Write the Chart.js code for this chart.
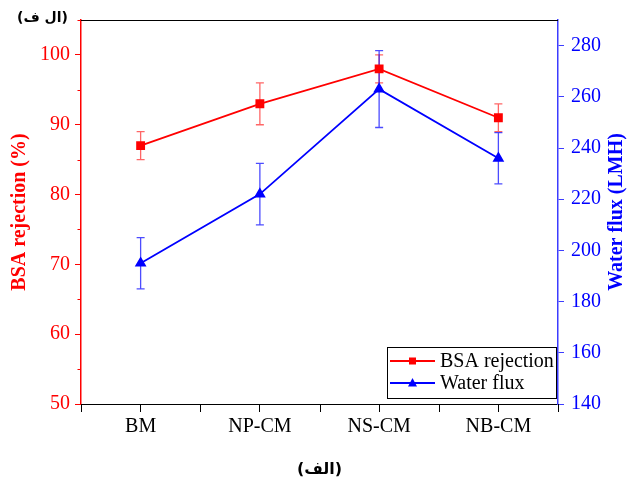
<!DOCTYPE html>
<html>
<head>
<meta charset="utf-8">
<script src="https://cdn.jsdelivr.net/npm/chart.js@4.4.0/dist/chart.umd.min.js"></script>
<style>
  html, body { margin: 0; padding: 0; background: #fff; }
  #wrap { width: 629px; height: 484px; }
</style>
</head>
<body>
<div id="wrap"><canvas id="membrane_chart"></canvas></div>
<script>
const membranes = ['BM', 'NP-CM', 'NS-CM', 'NB-CM'];
const bsa_rejection = [87, 93, 98, 91];
const bsa_error = [2, 3, 2, 2];
const water_flux = [195, 222, 263, 236];
const flux_error = [10, 12, 15, 10];

const RED = '#ff0000';
const BLUE = '#0000ff';
const BLUE_AXIS = '#3c3cff';
const serif = 'Liberation Serif, Times New Roman, serif';

// error bars behind the lines
const errorBars = {
  id: 'errorBars',
  beforeDatasetsDraw(chart) {
    const ctx = chart.ctx;
    const x = chart.scales.x;
    const sets = [
      [bsa_rejection, bsa_error, chart.scales.y, 'rgba(255,0,0,0.6)'],
      [water_flux, flux_error, chart.scales.y1, 'rgba(0,0,255,0.7)']
    ];
    ctx.save();
    ctx.lineWidth = 1.3;
    sets.forEach(([vals, errs, ys, color]) => {
      ctx.strokeStyle = color;
      vals.forEach((v, i) => {
        const px = x.getPixelForValue(i);
        const top = ys.getPixelForValue(v + errs[i]);
        const bot = ys.getPixelForValue(v - errs[i]);
        ctx.beginPath();
        ctx.moveTo(px, top); ctx.lineTo(px, bot);
        ctx.moveTo(px - 4, top); ctx.lineTo(px + 4, top);
        ctx.moveTo(px - 4, bot); ctx.lineTo(px + 4, bot);
        ctx.stroke();
      });
    });
    ctx.restore();
  }
};

// frame, minor ticks, right title, legend and labels
const extras = {
  id: 'extras',
  afterDraw(chart) {
    const ctx = chart.ctx;
    const a = chart.chartArea;
    ctx.save();

    // top border
    ctx.strokeStyle = '#000';
    ctx.lineWidth = 1;
    ctx.beginPath();
    ctx.moveTo(a.left, a.top + 0.5);
    ctx.lineTo(a.right, a.top + 0.5);
    ctx.stroke();

    // x ticks between categories
    const step = (a.right - a.left) / membranes.length;
    ctx.beginPath();
    for (let k = 0; k <= membranes.length; k++) {
      const px = Math.round(a.left + k * step) + 0.5;
      ctx.moveTo(px, a.bottom);
      ctx.lineTo(px, a.bottom + 8);
    }
    ctx.stroke();

    // short minor ticks on y axes
    const minor = (scale, every, color, dir) => {
      ctx.strokeStyle = color;
      ctx.beginPath();
      scale.ticks.forEach(t => {
        if (t.value % every === 0) return;
        const py = Math.round(scale.getPixelForValue(t.value)) + 0.5;
        const ax = dir < 0 ? a.left : a.right;
        ctx.moveTo(ax, py);
        ctx.lineTo(ax + dir * 3.5, py);
      });
      ctx.stroke();
    };
    minor(chart.scales.y, 10, RED, -1);
    minor(chart.scales.y1, 20, BLUE_AXIS, 1);

    // right axis title, reading upward
    ctx.fillStyle = BLUE;
    ctx.font = 'bold 20px ' + serif;
    ctx.textAlign = 'center';
    ctx.textBaseline = 'middle';
    ctx.translate(617, (a.top + a.bottom) / 2);
    ctx.rotate(-Math.PI / 2);
    ctx.fillText('Water flux (LMH)', 0, 0);
    ctx.setTransform(1, 0, 0, 1, 0, 0);

    // top-left label
    ctx.fillStyle = '#000';
    ctx.font = 'bold 14px DejaVu Sans';
    ctx.textAlign = 'left';
    ctx.fillText('(ال ف)', 17, 18);

    // legend
    const lx = 387, ly = 347, lw = 169, lh = 51;
    ctx.fillStyle = '#fff';
    ctx.fillRect(lx, ly, lw, lh);
    ctx.strokeStyle = '#000';
    ctx.lineWidth = 1;
    ctx.strokeRect(lx + 0.5, ly + 0.5, lw, lh);
    const rows = [
      ['BSA rejection', RED, 'rect', 361],
      ['Water flux', BLUE, 'triangle', 383]
    ];
    rows.forEach(([label, color, shape, ry]) => {
      ctx.strokeStyle = color;
      ctx.fillStyle = color;
      ctx.lineWidth = 1.8;
      ctx.beginPath();
      ctx.moveTo(390, ry);
      ctx.lineTo(435, ry);
      ctx.stroke();
      if (shape === 'rect') {
        ctx.fillRect(409, ry - 3.5, 7, 7);
      } else {
        ctx.beginPath();
        ctx.moveTo(412.5, ry - 5);
        ctx.lineTo(417, ry + 3.5);
        ctx.lineTo(408, ry + 3.5);
        ctx.closePath();
        ctx.fill();
      }
      ctx.fillStyle = '#000';
      ctx.font = '20px ' + serif;
      ctx.textAlign = 'left';
      ctx.textBaseline = 'middle';
      ctx.fillText(label, 440, ry + 1);
    });
    ctx.restore();
  }
};

new Chart(document.getElementById('membrane_chart'), {
  type: 'line',
  data: {
    labels: membranes,
    datasets: [{
      label: 'BSA rejection',
      data: bsa_rejection,
      yAxisID: 'y',
      borderColor: RED,
      backgroundColor: RED,
      borderWidth: 1.8,
      pointStyle: 'rect',
      pointRadius: 5,
      pointHoverRadius: 5,
      fill: false,
      tension: 0
    }, {
      label: 'Water flux',
      data: water_flux,
      yAxisID: 'y1',
      borderColor: BLUE,
      backgroundColor: BLUE,
      borderWidth: 1.8,
      pointStyle: 'triangle',
      pointRadius: 5,
      pointHoverRadius: 5,
      fill: false,
      tension: 0
    }]
  },
  options: {
    responsive: true,
    maintainAspectRatio: false,
    animation: false,
    layout: { padding: { top: 20, left: 0, right: 0, bottom: 0 } },
    plugins: {
      legend: { display: false },
      tooltip: { enabled: false }
    },
    scales: {
      x: {
        type: 'category',
        offset: true,
        grid: { drawOnChartArea: false, offset: false, tickLength: 8, color: '#000', tickColor: '#000' },
        border: { color: '#000', width: 1 },
        ticks: { color: '#000', font: { family: serif, size: 20 }, padding: 3, maxRotation: 0 },
        title: {
          display: true,
          text: '(الف)',
          color: '#000',
          font: { family: 'DejaVu Sans', weight: 'bold', size: 16 },
          padding: { top: 0, bottom: 5 }
        },
        afterFit(scale) { scale.height = 80; }
      },
      y: {
        position: 'left',
        min: 50,
        max: 105,
        grid: {
          drawOnChartArea: false,
          tickLength: 6,
          tickColor: c => (c.tick && c.tick.value % 10 === 0) ? RED : 'rgba(0,0,0,0)'
        },
        border: { color: RED, width: 1.5 },
        ticks: {
          stepSize: 5,
          color: RED,
          font: { family: serif, size: 20 },
          padding: 5,
          callback: v => v % 10 === 0 ? v : ''
        },
        title: {
          display: true,
          text: 'BSA rejection (%)',
          color: RED,
          font: { family: serif, weight: 'bold', size: 20 },
          padding: { top: 8, bottom: 0 }
        },
        afterFit(scale) { scale.width = 81; }
      },
      y1: {
        position: 'right',
        min: 140,
        max: 290,
        grid: {
          drawOnChartArea: false,
          tickLength: 6,
          tickColor: c => (c.tick && c.tick.value % 20 === 0) ? BLUE_AXIS : 'rgba(0,0,0,0)'
        },
        border: { color: BLUE_AXIS, width: 1.5 },
        ticks: {
          stepSize: 10,
          color: BLUE,
          font: { family: serif, size: 20 },
          padding: 7,
          callback: v => v % 20 === 0 ? v : ''
        },
        afterFit(scale) { scale.width = 71; }
      }
    }
  },
  plugins: [errorBars, extras]
});
</script>
</body>
</html>
